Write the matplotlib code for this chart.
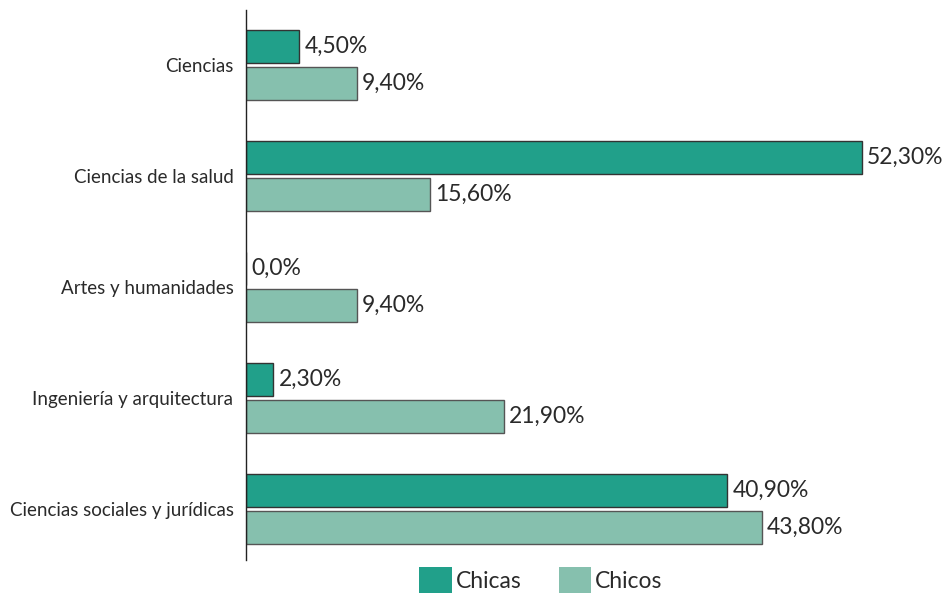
import numpy as np
import matplotlib.pyplot as plt
from matplotlib.patches import Patch

plt.rcParams['font.family'] = ['Lato', 'DejaVu Sans']

categorias = ['Ciencias', 'Ciencias de la salud', 'Artes y humanidades',
              'Ingeniería y arquitectura', 'Ciencias sociales y jurídicas']
chicas = [4.5, 52.3, 0.0, 2.3, 40.9]
chicos = [9.4, 15.6, 9.4, 21.9, 43.8]
etiq_chicas = ['4,50%', '52,30%', '0,0%', '2,30%', '40,90%']
etiq_chicos = ['9,40%', '15,60%', '9,40%', '21,90%', '43,80%']

c_chicas = '#21a08a'
c_chicos = '#86c0ae'
texto = '#2a2a2a'

fig = plt.figure(figsize=(9.49, 5.94), dpi=100)
ax = fig.add_axes([246/949, 34/594, 1 - 246/949, 550/594])

y = np.arange(len(categorias))
h = 0.297
off = 0.167
ax.barh(y - off, chicas, height=h, color=c_chicas, edgecolor='#333333', linewidth=1)
ax.barh(y + off, chicos, height=h, color=c_chicos, edgecolor='#555555', linewidth=1)

for i in range(len(categorias)):
    ax.annotate(etiq_chicas[i], (chicas[i], y[i] - off), xytext=(4, 0),
                textcoords='offset points', va='center', ha='left',
                fontsize=16.5, color=texto)
    ax.annotate(etiq_chicos[i], (chicos[i], y[i] + off), xytext=(4, 0),
                textcoords='offset points', va='center', ha='left',
                fontsize=16.5, color=texto)

ax.set_xlim(0, 703/11.77)
ax.set_ylim(4.46, -0.495)
ax.set_yticks(y)
ax.set_yticklabels(categorias, fontsize=13.5, color=texto)
ax.tick_params(axis='y', length=0, pad=9)
ax.set_xticks([])
for s in ['top', 'right', 'bottom']:
    ax.spines[s].set_visible(False)
ax.spines['left'].set_color('#222222')
ax.spines['left'].set_linewidth(1)

handles = [Patch(facecolor=c_chicas, label='Chicas'),
           Patch(facecolor=c_chicos, label='Chicos')]
fig.legend(handles=handles, loc='lower center', bbox_to_anchor=(541/949, -0.033),
           ncol=2, frameon=False, prop={'size': 16.5},
           labelcolor=texto, handlelength=1.4, handleheight=1.35,
           handletextpad=0.2, columnspacing=1.6)

fig.savefig('out.png', dpi=100)
